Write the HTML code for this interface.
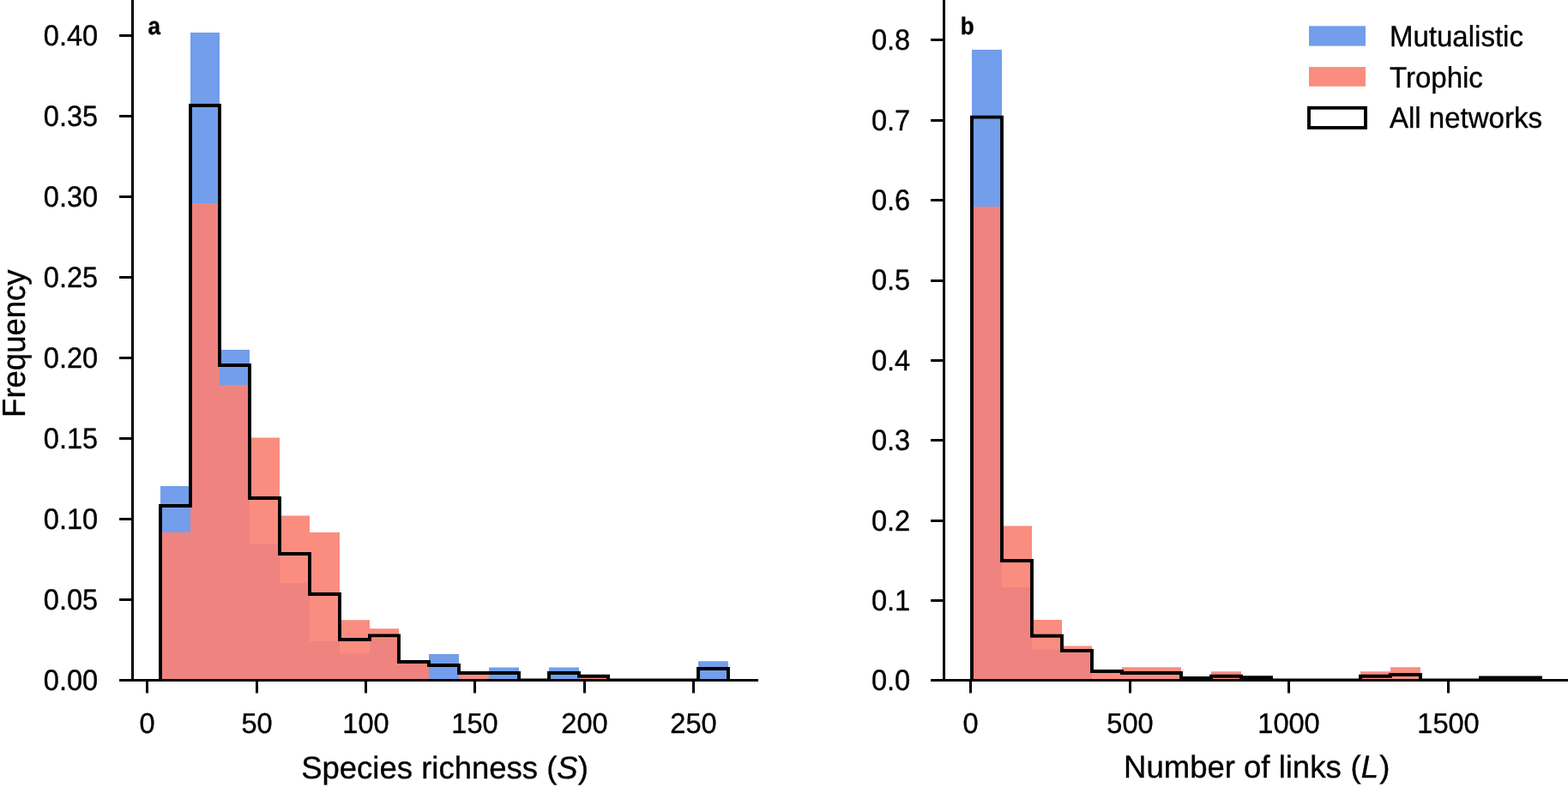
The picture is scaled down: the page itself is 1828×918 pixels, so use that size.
<!DOCTYPE html>
<html lang="en"><head><meta charset="utf-8"><title>Network size distributions</title>
<style>html,body{margin:0;padding:0;background:#fff;overflow:hidden}svg{display:block}text{text-rendering:geometricPrecision;font-family:"Liberation Sans",sans-serif;fill:#000;stroke:#000;stroke-width:.35px}</style>
</head><body>
<svg width="1828" height="918" viewBox="0 0 1828 918" role="img" aria-label="Histograms of species richness and number of links">
<rect width="1828" height="918" fill="#fff"/>
<g id="panel-a">
<clipPath id="clip154"><rect x="154.5" y="0" width="729.5" height="793.5"/></clipPath>
<g clip-path="url(#clip154)">
<path d="M187 793.5 L187 567 L222 567 L222 38 L256 38 L256 408 L291 408 L291 634.4 L326 634.4 L326 680 L361 680 L361 748.3 L396 748.3 L396 762.6 L431 762.6 L431 745 L465 745 L465 772 L500 772 L500 763 L535 763 L535 793.5 L570 793.5 L570 778.4 L605 778.4 L605 793.5 L640 793.5 L640 778.4 L675 778.4 L675 793.5 L709 793.5 L744 793.5 L779 793.5 L814 793.5 L814 771.2 L849 771.2 L849 793.5 Z" fill="#729eeb"/>
<path d="M187 793.5 L187 621.3 L222 621.3 L222 237 L256 237 L256 449.3 L291 449.3 L291 510.4 L326 510.4 L326 601.5 L361 601.5 L361 621 L396 621 L396 723.3 L431 723.3 L431 733.3 L465 733.3 L465 772 L500 772 L500 793.5 L535 793.5 L535 784.5 L570 784.5 L570 793.5 L605 793.5 L640 793.5 L675 793.5 L675 790 L709 790 L709 793.5 L744 793.5 L779 793.5 L814 793.5 L849 793.5 Z" fill="#fa8d80"/>
<path d="M187 793.5 L187 621.3 L222 621.3 L222 237 L256 237 L256 449.3 L291 449.3 L291 634.4 L326 634.4 L326 680 L361 680 L361 748.3 L396 748.3 L396 762.6 L431 762.6 L431 745 L465 745 L465 772 L500 772 L500 793.5 L535 793.5 L570 793.5 L605 793.5 L640 793.5 L675 793.5 L709 793.5 L744 793.5 L779 793.5 L814 793.5 L849 793.5 Z" fill="#ee8380"/>
<path d="M187 793.5 L187 590 L222 590 L222 123 L256 123 L256 426 L291 426 L291 581 L326 581 L326 646 L361 646 L361 693 L396 693 L396 746 L431 746 L431 741.4 L465 741.4 L465 772 L500 772 L500 776 L535 776 L535 785 L570 785 L605 785 L605 793.5 L640 793.5 L640 785 L675 785 L675 788.7 L709 788.7 L709 793.5 L744 793.5 L779 793.5 L814 793.5 L814 780 L849 780 L849 793.5" fill="none" stroke="#000" stroke-width="3.9" stroke-linejoin="miter"/>
</g>
<rect x="153" y="0" width="3" height="795" fill="#000"/>
<rect x="153" y="792" width="731" height="3" fill="#000"/>
<rect x="139.1" y="792" width="14.2" height="3" fill="#000"/>
<text transform="translate(114.2 805) scale(1 1.045)" text-anchor="end" font-size="32.6" stroke-width=".2">0.00</text>
<rect x="139.1" y="698" width="14.2" height="3" fill="#000"/>
<text transform="translate(114.2 711) scale(1 1.045)" text-anchor="end" font-size="32.6" stroke-width=".2">0.05</text>
<rect x="139.1" y="604" width="14.2" height="3" fill="#000"/>
<text transform="translate(114.2 617) scale(1 1.045)" text-anchor="end" font-size="32.6" stroke-width=".2">0.10</text>
<rect x="139.1" y="510" width="14.2" height="3" fill="#000"/>
<text transform="translate(114.2 523) scale(1 1.045)" text-anchor="end" font-size="32.6" stroke-width=".2">0.15</text>
<rect x="139.1" y="416" width="14.2" height="3" fill="#000"/>
<text transform="translate(114.2 429) scale(1 1.045)" text-anchor="end" font-size="32.6" stroke-width=".2">0.20</text>
<rect x="139.1" y="322" width="14.2" height="3" fill="#000"/>
<text transform="translate(114.2 335) scale(1 1.045)" text-anchor="end" font-size="32.6" stroke-width=".2">0.25</text>
<rect x="139.1" y="228" width="14.2" height="3" fill="#000"/>
<text transform="translate(114.2 241) scale(1 1.045)" text-anchor="end" font-size="32.6" stroke-width=".2">0.30</text>
<rect x="139.1" y="134" width="14.2" height="3" fill="#000"/>
<text transform="translate(114.2 147) scale(1 1.045)" text-anchor="end" font-size="32.6" stroke-width=".2">0.35</text>
<rect x="139.1" y="40" width="14.2" height="3" fill="#000"/>
<text transform="translate(114.2 53) scale(1 1.045)" text-anchor="end" font-size="32.6" stroke-width=".2">0.40</text>
<rect x="170" y="793.5" width="3" height="15" fill="#000"/>
<text transform="translate(171.5 855.2) scale(1 1.02)" text-anchor="middle" font-size="32.6" stroke-width=".2">0</text>
<rect x="298" y="793.5" width="3" height="15" fill="#000"/>
<text transform="translate(299.5 855.2) scale(1 1.02)" text-anchor="middle" font-size="32.6" stroke-width=".2">50</text>
<rect x="425" y="793.5" width="3" height="15" fill="#000"/>
<text transform="translate(426.5 855.2) scale(1 1.02)" text-anchor="middle" font-size="32.6" stroke-width=".2">100</text>
<rect x="552" y="793.5" width="3" height="15" fill="#000"/>
<text transform="translate(553.5 855.2) scale(1 1.02)" text-anchor="middle" font-size="32.6" stroke-width=".2">150</text>
<rect x="680" y="793.5" width="3" height="15" fill="#000"/>
<text transform="translate(681.5 855.2) scale(1 1.02)" text-anchor="middle" font-size="32.6" stroke-width=".2">200</text>
<rect x="807" y="793.5" width="3" height="15" fill="#000"/>
<text transform="translate(808.5 855.2) scale(1 1.02)" text-anchor="middle" font-size="32.6" stroke-width=".2">250</text>
<text transform="translate(172.6 39.6) scale(1 1.095)" font-size="26" font-weight="bold" stroke="none">a</text>
<text transform="translate(518.5 908.3) scale(1 1.005)" text-anchor="middle" font-size="36.5">Species richness (<tspan font-style="italic">S</tspan>)</text>
<text transform="translate(28.8 400.7) rotate(-90) scale(1 1.03)" text-anchor="middle" font-size="36.5">Frequency</text>
</g>
<g id="panel-b">
<clipPath id="clip1100"><rect x="1100.5" y="0" width="727.5" height="793.5"/></clipPath>
<g clip-path="url(#clip1100)">
<path d="M1133 793.5 L1133 58 L1168 58 L1168 685 L1203 685 L1203 757.5 L1238 757.5 L1238 762 L1273 762 L1273 793.5 L1308 793.5 L1342 793.5 L1377 793.5 L1412 793.5 L1447 793.5 L1482 793.5 L1517 793.5 L1552 793.5 L1586 793.5 L1621 793.5 L1656 793.5 L1691 793.5 L1726 793.5 L1761 793.5 L1796 793.5 Z" fill="#729eeb"/>
<path d="M1133 793.5 L1133 241.3 L1168 241.3 L1168 613.4 L1203 613.4 L1203 723 L1238 723 L1238 753.5 L1273 753.5 L1273 785 L1308 785 L1308 778.2 L1342 778.2 L1377 778.2 L1377 791 L1412 791 L1412 783.2 L1447 783.2 L1447 789.5 L1482 789.5 L1482 793.5 L1517 793.5 L1552 793.5 L1586 793.5 L1586 783.2 L1621 783.2 L1621 778.2 L1656 778.2 L1656 793.5 L1691 793.5 L1726 793.5 L1726 789.5 L1761 789.5 L1796 789.5 L1796 793.5 Z" fill="#fa8d80"/>
<path d="M1133 793.5 L1133 241.3 L1168 241.3 L1168 685 L1203 685 L1203 757.5 L1238 757.5 L1238 762 L1273 762 L1273 793.5 L1308 793.5 L1342 793.5 L1377 793.5 L1412 793.5 L1447 793.5 L1482 793.5 L1517 793.5 L1552 793.5 L1586 793.5 L1621 793.5 L1656 793.5 L1691 793.5 L1726 793.5 L1761 793.5 L1796 793.5 Z" fill="#ee8380"/>
<path d="M1133 793.5 L1133 136.6 L1168 136.6 L1168 654 L1203 654 L1203 741.8 L1238 741.8 L1238 759 L1273 759 L1273 783 L1308 783 L1308 785 L1342 785 L1377 785 L1377 791 L1412 791 L1412 788.7 L1447 788.7 L1447 790.3 L1482 790.3 L1482 793.5 L1517 793.5 L1552 793.5 L1586 793.5 L1586 788.7 L1621 788.7 L1621 787 L1656 787 L1656 793.5 L1691 793.5 L1726 793.5 L1726 790.5 L1761 790.5 L1796 790.5 L1796 793.5" fill="none" stroke="#000" stroke-width="3.9" stroke-linejoin="miter"/>
</g>
<rect x="1099" y="0" width="3" height="795" fill="#000"/>
<rect x="1099" y="792" width="729" height="3" fill="#000"/>
<rect x="1085.1" y="792" width="14.2" height="3" fill="#000"/>
<text transform="translate(1061.2 805.3) scale(1 1.045)" text-anchor="end" font-size="32.6" stroke-width=".2">0.0</text>
<rect x="1085.1" y="699" width="14.2" height="3" fill="#000"/>
<text transform="translate(1061.2 711.93) scale(1 1.045)" text-anchor="end" font-size="32.6" stroke-width=".2">0.1</text>
<rect x="1085.1" y="606" width="14.2" height="3" fill="#000"/>
<text transform="translate(1061.2 618.56) scale(1 1.045)" text-anchor="end" font-size="32.6" stroke-width=".2">0.2</text>
<rect x="1085.1" y="512" width="14.2" height="3" fill="#000"/>
<text transform="translate(1061.2 525.19) scale(1 1.045)" text-anchor="end" font-size="32.6" stroke-width=".2">0.3</text>
<rect x="1085.1" y="419" width="14.2" height="3" fill="#000"/>
<text transform="translate(1061.2 431.82) scale(1 1.045)" text-anchor="end" font-size="32.6" stroke-width=".2">0.4</text>
<rect x="1085.1" y="326" width="14.2" height="3" fill="#000"/>
<text transform="translate(1061.2 338.45) scale(1 1.045)" text-anchor="end" font-size="32.6" stroke-width=".2">0.5</text>
<rect x="1085.1" y="232" width="14.2" height="3" fill="#000"/>
<text transform="translate(1061.2 245.08) scale(1 1.045)" text-anchor="end" font-size="32.6" stroke-width=".2">0.6</text>
<rect x="1085.1" y="139" width="14.2" height="3" fill="#000"/>
<text transform="translate(1061.2 151.71) scale(1 1.045)" text-anchor="end" font-size="32.6" stroke-width=".2">0.7</text>
<rect x="1085.1" y="45" width="14.2" height="3" fill="#000"/>
<text transform="translate(1061.2 58.34) scale(1 1.045)" text-anchor="end" font-size="32.6" stroke-width=".2">0.8</text>
<rect x="1130" y="793.5" width="3" height="15" fill="#000"/>
<text transform="translate(1131.5 855.2) scale(1 1.02)" text-anchor="middle" font-size="32.6" stroke-width=".2">0</text>
<rect x="1316" y="793.5" width="3" height="15" fill="#000"/>
<text transform="translate(1317.5 855.2) scale(1 1.02)" text-anchor="middle" font-size="32.6" stroke-width=".2">500</text>
<rect x="1501" y="793.5" width="3" height="15" fill="#000"/>
<text transform="translate(1502.5 855.2) scale(1 1.02)" text-anchor="middle" font-size="32.6" stroke-width=".2">1000</text>
<rect x="1687" y="793.5" width="3" height="15" fill="#000"/>
<text transform="translate(1688.5 855.2) scale(1 1.02)" text-anchor="middle" font-size="32.6" stroke-width=".2">1500</text>
<text transform="translate(1119.8 39.7) scale(1 1.095)" font-size="26" font-weight="bold" stroke="none">b</text>
<text transform="translate(1465.2 906.9) scale(1 1.005)" text-anchor="middle" font-size="36.5">Number of links <tspan dx="0.6">(</tspan><tspan font-style="italic" dx="0.2">L</tspan><tspan dx="1.1">)</tspan></text>
</g>
<g id="legend">
<rect x="1526" y="30.3" width="66" height="23.3" fill="#729eeb"/>
<text transform="translate(1620 54.2) scale(1 1.035)" font-size="33">Mutualistic</text>
<rect x="1526" y="78.1" width="66" height="22.7" fill="#fa8d80"/>
<text transform="translate(1620 102.2) scale(1 1.035)" font-size="33">Trophic</text>
<rect x="1526" y="125.8" width="66" height="23.2" fill="#fff" stroke="#000" stroke-width="3.9"/>
<text transform="translate(1620 148.9) scale(1 1.035)" font-size="33">All networks</text>
</g>
</svg>
</body></html>
